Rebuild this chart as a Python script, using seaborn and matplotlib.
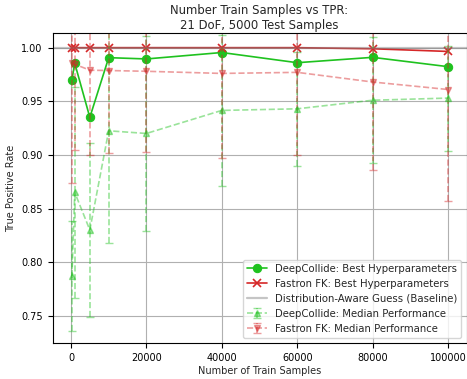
import matplotlib
matplotlib.use("Agg")
import matplotlib.pyplot as plt
import seaborn as sns
import pandas as pd

# Training-set sizes evaluated
train_sizes = [250, 1000, 5000, 10000, 20000, 40000, 60000, 80000, 100000]

# Best-hyperparameter true positive rates
deepcollide_best = [0.970, 0.9855, 0.935, 0.9907, 0.9895, 0.9955, 0.986, 0.991, 0.9823]
fastron_best = [1.0, 1.0, 1.0, 1.0, 1.0, 1.0, 1.0, 0.999, 0.9965]

# Distribution-aware guess (always predicts collision)
baseline_tpr = 1.0

# Median performance across hyperparameter sweeps, with standard deviation
deepcollide_median = [0.787, 0.865, 0.830, 0.9225, 0.920, 0.9415, 0.943, 0.951, 0.953]
deepcollide_std = [0.051, 0.098, 0.081, 0.1045, 0.091, 0.0705, 0.053, 0.059, 0.049]
fastron_median = [0.9855, 0.9846, 0.979, 0.9787, 0.978, 0.976, 0.977, 0.968, 0.961]
fastron_std = [0.1115, 0.080, 0.079, 0.077, 0.0755, 0.079, 0.077, 0.082, 0.104]

GREEN = "#1fc21f"
RED = "#d62728"

sns.set_style("ticks")
plt.rcParams["font.family"] = ["DejaVu Sans"]
plt.rcParams["font.size"] = 7

best_df = pd.DataFrame({
    "samples": train_sizes + train_sizes,
    "tpr": deepcollide_best + fastron_best,
    "model": ["DeepCollide: Best Hyperparameters"] * len(train_sizes)
             + ["Fastron FK: Best Hyperparameters"] * len(train_sizes),
})

fig = plt.figure(figsize=(4.67, 3.79), dpi=100)
ax = fig.add_axes([52.5 / 467, 36 / 379, 414 / 467, 310 / 379])

sns.lineplot(data=best_df[best_df.model.str.startswith("DeepCollide")], x="samples", y="tpr",
             color=GREEN, marker="o", markersize=6, markeredgecolor=GREEN, linewidth=1.2,
             label="DeepCollide: Best Hyperparameters", ax=ax, errorbar=None)
sns.lineplot(data=best_df[best_df.model.str.startswith("Fastron")], x="samples", y="tpr",
             color=RED, marker="x", markersize=6, markeredgecolor=RED, markeredgewidth=1.2,
             linewidth=1.2, label="Fastron FK: Best Hyperparameters", ax=ax, errorbar=None)

ax.axhline(baseline_tpr, color="gray", alpha=0.45, linewidth=1.6,
           label="Distribution-Aware Guess (Baseline)")

for med, std, col, mk, lab in [
    (deepcollide_median, deepcollide_std, GREEN, "^", "DeepCollide: Median Performance"),
    (fastron_median, fastron_std, RED, "v", "Fastron FK: Median Performance"),
]:
    cont = ax.errorbar(train_sizes, med, yerr=std, color=col, alpha=0.45, linestyle="--",
                       marker=mk, markersize=5, capsize=3, linewidth=1.2, label=lab)
    for bar in cont[2]:
        bar.set_linestyle("--")

ax.set_ylim(0.7246, 1.0137)
ax.set_xlim(-4900, 104900)
ax.set_xticks([0, 20000, 40000, 60000, 80000, 100000])
ax.set_yticks([0.75, 0.80, 0.85, 0.90, 0.95, 1.00])
ax.yaxis.set_major_formatter(matplotlib.ticker.FormatStrFormatter("%.2f"))
ax.grid(True, color="#b0b0b0", linewidth=0.8)
for sp in ax.spines.values():
    sp.set_color("black")
    sp.set_linewidth(0.8)
ax.tick_params(direction="out", length=3.5, width=0.8, colors="black", labelsize=7)

ax.set_xlabel("Number of Train Samples", fontsize=7, labelpad=2)
ax.set_ylabel("True Positive Rate", fontsize=7)
ax.set_title("Number Train Samples vs TPR:\n21 DoF, 5000 Test Samples", fontsize=8.4, pad=3)

ax.legend(loc="lower right", fontsize=7.25, framealpha=0.8, borderaxespad=0.5)

fig.savefig("out.png", dpi=100)
